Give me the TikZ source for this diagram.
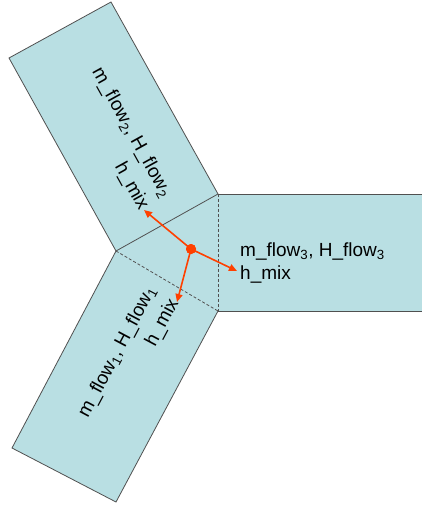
\documentclass[tikz,border=0pt]{standalone}
\usepackage{fontspec}
\setmainfont{Liberation Sans}
\usetikzlibrary{arrows.meta}
\definecolor{pipefill}{RGB}{185,223,227}
\definecolor{pipeedge}{RGB}{80,80,80}
\definecolor{flowred}{RGB}{255,64,0}
\begin{document}
\begin{tikzpicture}[x=1pt,y=-1pt,
  pipe/.style={fill=pipefill,draw=pipeedge,line width=0.8pt},
  solidedge/.style={draw=pipeedge,line width=0.8pt},
  junction/.style={draw=pipeedge,line width=0.8pt,dash pattern=on 3pt off 2pt},
  lbl/.style={font=\fontsize{19}{23}\selectfont,inner sep=0pt},
  rlbl/.style={font=\fontsize{19}{26}\selectfont,inner sep=0pt,align=right},
  flowarrow/.style={draw=flowred,line width=1.6pt,-{Triangle[length=8pt,width=7pt]}},
  flowdot/.style={circle,fill=flowred,minimum size=10pt,inner sep=0pt}]
\clip (0,0) rectangle (422,506);
\fill[white] (0,0) rectangle (422,506);
\coordinate (A) at (218,194);
\coordinate (B) at (218,311);
\coordinate (C) at (116,251);
% pipes
\path[pipe] (A) -- (111,2) -- (9,58) -- (C);
\path[pipe] (C) -- (12,448) -- (116,502) -- (B);
\path[pipe] (A) -- (430,194) -- (430,311) -- (B);
% junction
\fill[pipefill] (A) -- (B) -- (C) -- cycle;
\draw[solidedge] (C) -- (A);
\draw[junction] (C) -- (B);
\draw[junction] (A) -- (B);
% labels
\node[rlbl,rotate=-61] (l2) at (120,139) {m\_flow\textsubscript{2}, H\_flow\textsubscript{2}\\h\_mix};
\node[rlbl,rotate=62] (l1) at (129,358) {m\_flow\textsubscript{1}, H\_flow\textsubscript{1}\\h\_mix};
\node[lbl,anchor=west,align=left] (l3) at (240,263) {m\_flow\textsubscript{3}, H\_flow\textsubscript{3}\\h\_mix};
% arrows
\node[flowdot] (d) at (191,249) {};
\coordinate (t1) at (177,302);
\coordinate (t2) at (144,210);
\coordinate (t3) at (237,271);
\draw[flowarrow] (d.center) -- (t1);
\draw[flowarrow] (d.center) -- (t2);
\draw[flowarrow] (d.center) -- (t3);
\node[flowdot] at (d) {};
\end{tikzpicture}
\end{document}
